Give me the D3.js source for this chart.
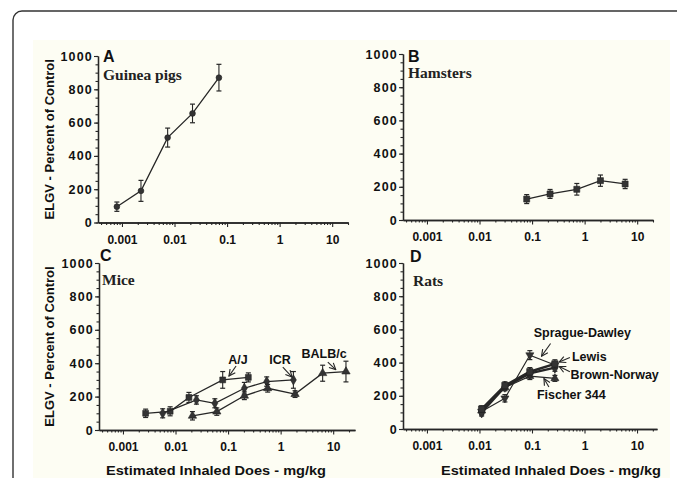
<!DOCTYPE html>
<html>
<head>
<meta charset="utf-8">
<script src="https://cdn.jsdelivr.net/npm/d3@7"></script>
<style>
  body { margin: 0; background: #fff; }
  svg { display: block; }
</style>
</head>
<body>
<div id="chart"></div>
<script>
var W = 677, H = 478;

// axis values
var yTicks = [0, 200, 400, 600, 800, 1000];
var xTicks = [0.001, 0.01, 0.1, 1, 10];
var xTickLabels = ["0.001", "0.01", "0.1", "1", "10"];

// A - guinea pigs
var gpDose = [0.0008, 0.0023, 0.0074, 0.022, 0.07];
var gpElgv = [95, 190, 510, 655, 870];
var gpErr = [28, 63, 57, 56, 80];

// B - hamsters
var hamDose = [0.079, 0.22, 0.71, 2.0, 5.9];
var hamElgv = [126, 157, 185, 237, 217];
var hamErr = [27, 27, 35, 34, 28];

// C - mice
var ajDose = [0.0027, 0.0079, 0.018, 0.079, 0.243];
var ajElgv = [100, 112, 195, 300, 315];
var ajErr = [25, 27, 30, 50, 27];
var icrDose = [0.0057, 0.025, 0.056, 0.204, 0.543, 1.75];
var icrElgv = [100, 180, 160, 250, 290, 300];
var icrErr = [27, 25, 27, 35, 28, 50];
var balbDose = [0.021, 0.061, 0.204, 0.567, 1.88, 6.3, 17.5];
var balbElgv = [85, 110, 205, 250, 215, 340, 350];
var balbErr = [25, 22, 23, 23, 20, 48, 62];
var miceNotes = ["A/J", "ICR", "BALB/c"];
var miceNoteAt = [[0.155, 395], [0.97, 395], [6.7, 431]];
var miceArrows = [[[0.142, 383], [0.104, 323]], [[1.1, 377], [1.65, 317]], [[7.9, 407], [11.2, 362]]];

// D - rats
var ratDose = [0.011, 0.0305, 0.091, 0.273];
var sdElgv = [105, 185, 445, 385];
var sdErr = [20, 22, 27, 22];
var lewisElgv = [120, 262, 345, 392];
var lewisErr = [20, 22, 25, 25];
var bnElgv = [100, 255, 335, 370];
var bnErr = [22, 20, 22, 22];
var f344Elgv = [110, 250, 318, 305];
var f344Err = [20, 20, 20, 18];
var ratNotes = ["Sprague-Dawley", "Lewis", "Brown-Norway", "Fischer 344"];
var ratNoteAt = [[0.91, 553], [0.575, 411], [0.543, 299], [0.124, 180]];
var ratArrows = [[[0.226, 515], [0.152, 439]], [[0.527, 431], [0.33, 403]], [[0.527, 345], [0.33, 376]], [[0.21, 253], [0.169, 304]]];

var ink = "#262626";

var panels = [
  { letter: "A", animal: "Guinea pigs", left: 98, right: 348, top: 56, bottom: 222.5, xMax: 20,
    letterPos: [103, 62], animalPos: [103, 80], yLabel: true, xLabel: null,
    series: [{ dose: gpDose, elgv: gpElgv, err: gpErr, shape: d3.symbolCircle, size: 26, lw: 1.3 }],
    notes: [], noteAt: [], arrows: [], anchors: [] },
  { letter: "B", animal: "Hamsters", left: 403, right: 653, top: 54, bottom: 220, xMax: 20,
    letterPos: [408, 62], animalPos: [408, 78], yLabel: false, xLabel: null,
    series: [{ dose: hamDose, elgv: hamElgv, err: hamErr, shape: d3.symbolSquare, size: 36, lw: 1.3 }],
    notes: [], noteAt: [], arrows: [], anchors: [] },
  { letter: "C", animal: "Mice", left: 99, right: 355, top: 263, bottom: 430, xMax: 26,
    letterPos: [100, 261], animalPos: [102, 285], yLabel: true, xLabel: 216,
    series: [
      { dose: ajDose, elgv: ajElgv, err: ajErr, shape: d3.symbolSquare, size: 34, lw: 1.3 },
      { dose: icrDose, elgv: icrElgv, err: icrErr, shape: d3.symbolDiamond, size: 30, lw: 1.3 },
      { dose: balbDose, elgv: balbElgv, err: balbErr, shape: d3.symbolTriangle, size: 30, lw: 1.3 }
    ],
    notes: miceNotes, noteAt: miceNoteAt, arrows: miceArrows, anchors: ["middle", "middle", "middle"] },
  { letter: "D", animal: "Rats", left: 403, right: 657, top: 263, bottom: 429, xMax: 24,
    letterPos: [410, 262], animalPos: [413, 286], yLabel: false, xLabel: 551,
    series: [
      { dose: ratDose, elgv: sdElgv, err: sdErr, shape: d3.symbolTriangle, size: 28, lw: 1.1, flip: true },
      { dose: ratDose, elgv: f344Elgv, err: f344Err, shape: d3.symbolTriangle, size: 28, lw: 1.3 },
      { dose: ratDose, elgv: bnElgv, err: bnErr, shape: d3.symbolDiamond, size: 36, lw: 2.4 },
      { dose: ratDose, elgv: lewisElgv, err: lewisErr, shape: d3.symbolSquare, size: 40, lw: 2.4 }
    ],
    notes: ratNotes, noteAt: ratNoteAt, arrows: ratArrows, anchors: ["middle", "start", "start", "start"] }
];

var svg = d3.select("#chart").append("svg")
  .attr("width", W).attr("height", H)
  .style("font-family", "'Liberation Sans', Arial, sans-serif");

svg.append("rect").attr("width", W).attr("height", H).attr("fill", "#fff");
svg.append("rect").attr("x", 33).attr("y", 40).attr("width", 637).attr("height", H - 40).attr("fill", "#fdfdf3");
svg.append("rect")
  .attr("x", 13).attr("y", 11).attr("width", W + 30).attr("height", H + 30).attr("rx", 9)
  .attr("fill", "none").attr("stroke", "#333").attr("stroke-width", 1.4);

svg.append("defs").append("marker")
  .attr("id", "arrow").attr("viewBox", "0 0 10 10").attr("refX", 9).attr("refY", 5)
  .attr("markerUnits", "userSpaceOnUse").attr("markerWidth", 8).attr("markerHeight", 8)
  .attr("orient", "auto")
  .append("path").attr("d", "M1,1 L9,5 L1,9")
  .attr("fill", "none").attr("stroke", ink).attr("stroke-width", 1.4);

// minor ticks of the log axis: 2..9 times each decade inside the domain
function minorX(lo, hi) {
  var out = [];
  for (var k = -4; k <= 1; k++) {
    for (var m = 2; m <= 9; m++) {
      var v = m * Math.pow(10, k);
      if (v >= lo && v <= hi) out.push(v);
    }
  }
  return out;
}

function styleAxis(sel) {
  sel.select(".domain").attr("stroke", ink).attr("stroke-width", 1.3);
  sel.selectAll(".tick line").attr("stroke", ink).attr("stroke-width", 1.1);
  sel.selectAll("text").attr("fill", "#111").style("font-size", "12px").style("font-weight", "bold");
}

panels.forEach(function (p) {
  var x = d3.scaleLog().domain([0.00035, p.xMax]).range([p.left, p.right]);
  var y = d3.scaleLinear().domain([0, 1000]).range([p.bottom, p.top]);
  var g = svg.append("g");

  // x axis
  g.append("g").attr("transform", "translate(0," + p.bottom + ")")
    .call(d3.axisBottom(x).tickValues(minorX(0.00035, p.xMax)).tickFormat("").tickSize(2.5).tickSizeOuter(0))
    .call(styleAxis);
  g.append("g").attr("transform", "translate(0," + p.bottom + ")")
    .call(d3.axisBottom(x).tickValues(xTicks).tickFormat(function (d, i) { return xTickLabels[i]; })
      .tickSize(4.5).tickPadding(8).tickSizeOuter(0))
    .call(styleAxis);

  // y axis
  g.append("g").attr("transform", "translate(" + p.left + ",0)")
    .call(d3.axisLeft(y).tickValues(d3.range(0, 1001, 50)).tickFormat("").tickSize(2.5).tickSizeOuter(0))
    .call(styleAxis);
  g.append("g").attr("transform", "translate(" + p.left + ",0)")
    .call(d3.axisLeft(y).tickValues(yTicks).tickFormat(d3.format("d")).tickSize(4).tickPadding(1).tickSizeOuter(0))
    .call(styleAxis)
    .selectAll("text").style("font-size", "12.5px").style("letter-spacing", "1.2px");

  // panel letter and animal
  g.append("text").attr("x", p.letterPos[0]).attr("y", p.letterPos[1])
    .style("font-size", "16px").style("font-weight", "bold").attr("fill", "#111").text(p.letter);
  g.append("text").attr("x", p.animalPos[0]).attr("y", p.animalPos[1])
    .style("font-family", "'Liberation Serif', 'Times New Roman', serif")
    .style("font-size", "15.5px").style("font-weight", "bold").attr("fill", "#222").text(p.animal);

  if (p.yLabel) {
    g.append("text")
      .attr("transform", "translate(54," + ((p.top + p.bottom) / 2) + ") rotate(-90)")
      .attr("text-anchor", "middle")
      .style("font-size", "13px").style("font-weight", "bold").attr("fill", "#111")
      .text("ELGV - Percent of Control");
  }
  if (p.xLabel) {
    g.append("text").attr("x", p.xLabel).attr("y", 475)
      .attr("text-anchor", "middle")
      .attr("textLength", 220).attr("lengthAdjust", "spacingAndGlyphs")
      .style("font-size", "12.5px").style("font-weight", "bold").attr("fill", "#111")
      .text("Estimated Inhaled Does - mg/kg");
  }

  var line = d3.line().x(function (d) { return x(d[0]); }).y(function (d) { return y(d[1]); });

  p.series.forEach(function (s) {
    var pts = d3.zip(s.dose, s.elgv, s.err);

    g.append("path").datum(pts).attr("d", line)
      .attr("fill", "none").attr("stroke", ink).attr("stroke-width", s.lw);

    var bars = g.append("g").selectAll("g").data(pts).enter().append("g");
    bars.append("line")
      .attr("x1", function (d) { return x(d[0]); }).attr("x2", function (d) { return x(d[0]); })
      .attr("y1", function (d) { return y(d[1] - d[2]); }).attr("y2", function (d) { return y(d[1] + d[2]); })
      .attr("stroke", ink).attr("stroke-width", 1.1);
    [-1, 1].forEach(function (sign) {
      bars.append("line")
        .attr("x1", function (d) { return x(d[0]) - 2.5; }).attr("x2", function (d) { return x(d[0]) + 2.5; })
        .attr("y1", function (d) { return y(d[1] + sign * d[2]); }).attr("y2", function (d) { return y(d[1] + sign * d[2]); })
        .attr("stroke", ink).attr("stroke-width", 1.2);
    });

    g.append("g").selectAll("path").data(pts).enter().append("path")
      .attr("d", d3.symbol().type(s.shape).size(s.size))
      .attr("transform", function (d) {
        return "translate(" + x(d[0]) + "," + y(d[1]) + ")" + (s.flip ? " rotate(180)" : "");
      })
      .attr("fill", "#333").attr("stroke", "#222").attr("stroke-width", 0.6);
  });

  // strain labels with arrows
  p.notes.forEach(function (t, i) {
    g.append("text").attr("x", x(p.noteAt[i][0])).attr("y", y(p.noteAt[i][1]))
      .attr("text-anchor", p.anchors[i])
      .style("font-size", "12.5px").style("font-weight", "bold").attr("fill", "#111").text(t);
    var a = p.arrows[i];
    g.append("line")
      .attr("x1", x(a[0][0])).attr("y1", y(a[0][1]))
      .attr("x2", x(a[1][0])).attr("y2", y(a[1][1]))
      .attr("stroke", ink).attr("stroke-width", 1.1).attr("marker-end", "url(#arrow)");
  });
});
</script>
</body>
</html>
